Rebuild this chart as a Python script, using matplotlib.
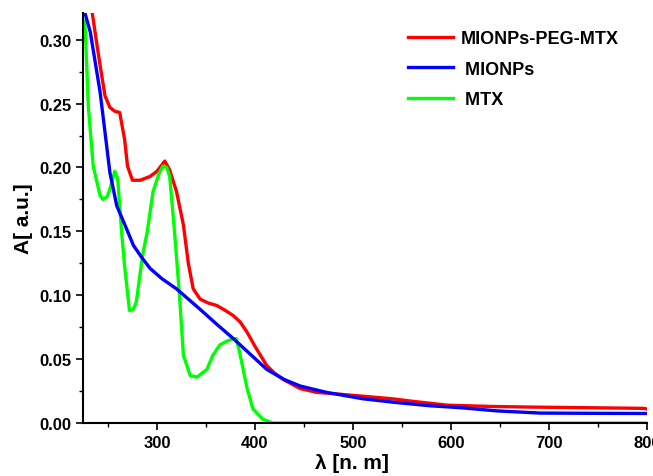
import matplotlib
matplotlib.use("Agg")
import matplotlib.pyplot as plt
from matplotlib.ticker import MultipleLocator

plt.rcParams['font.family'] = ['Liberation Sans', 'DejaVu Sans']
plt.rcParams['font.weight'] = 'bold'

# MIONPs-PEG-MTX (red)
red_x = [232, 234, 238, 242, 247, 252, 257, 262, 267, 270, 275, 283, 293, 300, 308, 313, 320, 327, 332, 337,
         344, 352, 361, 370, 378, 385, 392, 400, 412, 420, 429, 446, 463, 480, 510, 540, 561, 596,
         640, 681, 740, 796, 800]
red_y = [0.330, 0.321, 0.300, 0.280, 0.256, 0.247, 0.244, 0.243, 0.222, 0.201, 0.190, 0.190, 0.193, 0.197, 0.205,
         0.198, 0.181, 0.155, 0.125, 0.105, 0.097, 0.094, 0.092, 0.088, 0.084, 0.079, 0.071, 0.060,
         0.045, 0.039, 0.034, 0.027, 0.024, 0.023, 0.021, 0.019, 0.017, 0.014, 0.013, 0.0125, 0.012,
         0.0115, 0.011]

# MIONPs (blue)
blue_x = [225, 226.5, 232, 242, 249, 252, 259, 269, 276, 285, 293, 305, 320, 332, 344, 360, 378, 395,
          412, 430, 446, 473, 510, 545, 579, 610, 647, 691, 750, 800]
blue_y = [0.330, 0.321, 0.306, 0.259, 0.215, 0.196, 0.170, 0.152, 0.139, 0.129, 0.121, 0.113, 0.105,
          0.097, 0.089, 0.078, 0.066, 0.054, 0.042, 0.034, 0.029, 0.024, 0.019, 0.016, 0.0135, 0.012,
          0.0095, 0.0078, 0.0076, 0.0075]

# MTX (green)
green_x = [226, 227, 230, 235, 242, 245, 249, 252, 257, 260, 264, 267, 272, 276, 279, 283, 286, 290,
           296, 302, 306, 310, 313, 318, 323, 327, 334, 341, 351, 357, 364, 371, 378, 381, 385, 392,
           398, 408, 418, 500, 600, 700, 800]
green_y = [0.315, 0.306, 0.248, 0.201, 0.178, 0.175, 0.177, 0.183, 0.197, 0.191, 0.149, 0.123, 0.088,
           0.089, 0.095, 0.118, 0.134, 0.149, 0.181, 0.195, 0.201, 0.200, 0.193, 0.149, 0.100, 0.053,
           0.037, 0.036, 0.042, 0.053, 0.061, 0.064, 0.066, 0.066, 0.053, 0.027, 0.011, 0.003, 0.0,
           0.0, 0.0, 0.0, 0.0]

labels = ["MIONPs-PEG-MTX", " MIONPs", " MTX"]

fig = plt.figure(figsize=(6.53, 4.77), dpi=100)
ax = fig.add_axes([0.127, 0.111, 0.864, 0.860])

lw = 2.4
ax.plot(green_x, green_y, color='#00ff00', lw=lw, label=labels[2], zorder=2)
ax.plot(blue_x, blue_y, color='#0000ff', lw=lw, label=labels[1], zorder=3)
ax.plot(red_x, red_y, color='#ff0000', lw=lw, label=labels[0], zorder=1)

ax.set_xlim(224.5, 800)
ax.set_ylim(0, 0.321)
ax.xaxis.set_major_locator(MultipleLocator(100))
ax.xaxis.set_minor_locator(MultipleLocator(50))
ax.yaxis.set_major_locator(MultipleLocator(0.05))
ax.yaxis.set_minor_locator(MultipleLocator(0.025))
ax.yaxis.set_major_formatter(plt.FormatStrFormatter('%.2f'))

for s in ['top', 'right']:
    ax.spines[s].set_visible(False)
for s in ['left', 'bottom']:
    ax.spines[s].set_linewidth(1.5)
ax.tick_params(which='major', direction='out', length=5, width=1.2, labelsize=12)
ax.tick_params(which='minor', direction='out', length=3, width=1.0)
for t in ax.get_xticklabels() + ax.get_yticklabels():
    t.set_fontweight('bold')

ax.set_xlabel("λ [n. m]", fontsize=15, fontweight='bold', labelpad=0)
ax.xaxis.set_label_coords(0.477, -0.072)
ax.set_ylabel("A[ a.u.]", fontsize=15, fontweight='bold', labelpad=4)

handles, labs = ax.get_legend_handles_labels()
order = [2, 1, 0]
leg = fig.legend([handles[i] for i in order], [labs[i] for i in order],
                 loc='upper left', bbox_to_anchor=(408 / 653, 1 - 31 / 477), frameon=False,
                 fontsize=13, handlelength=2.5, labelspacing=0.75, handletextpad=0.4,
                 borderpad=0, borderaxespad=0)
for t in leg.get_texts():
    t.set_fontweight('bold')

fig.savefig("out.png", dpi=100)
